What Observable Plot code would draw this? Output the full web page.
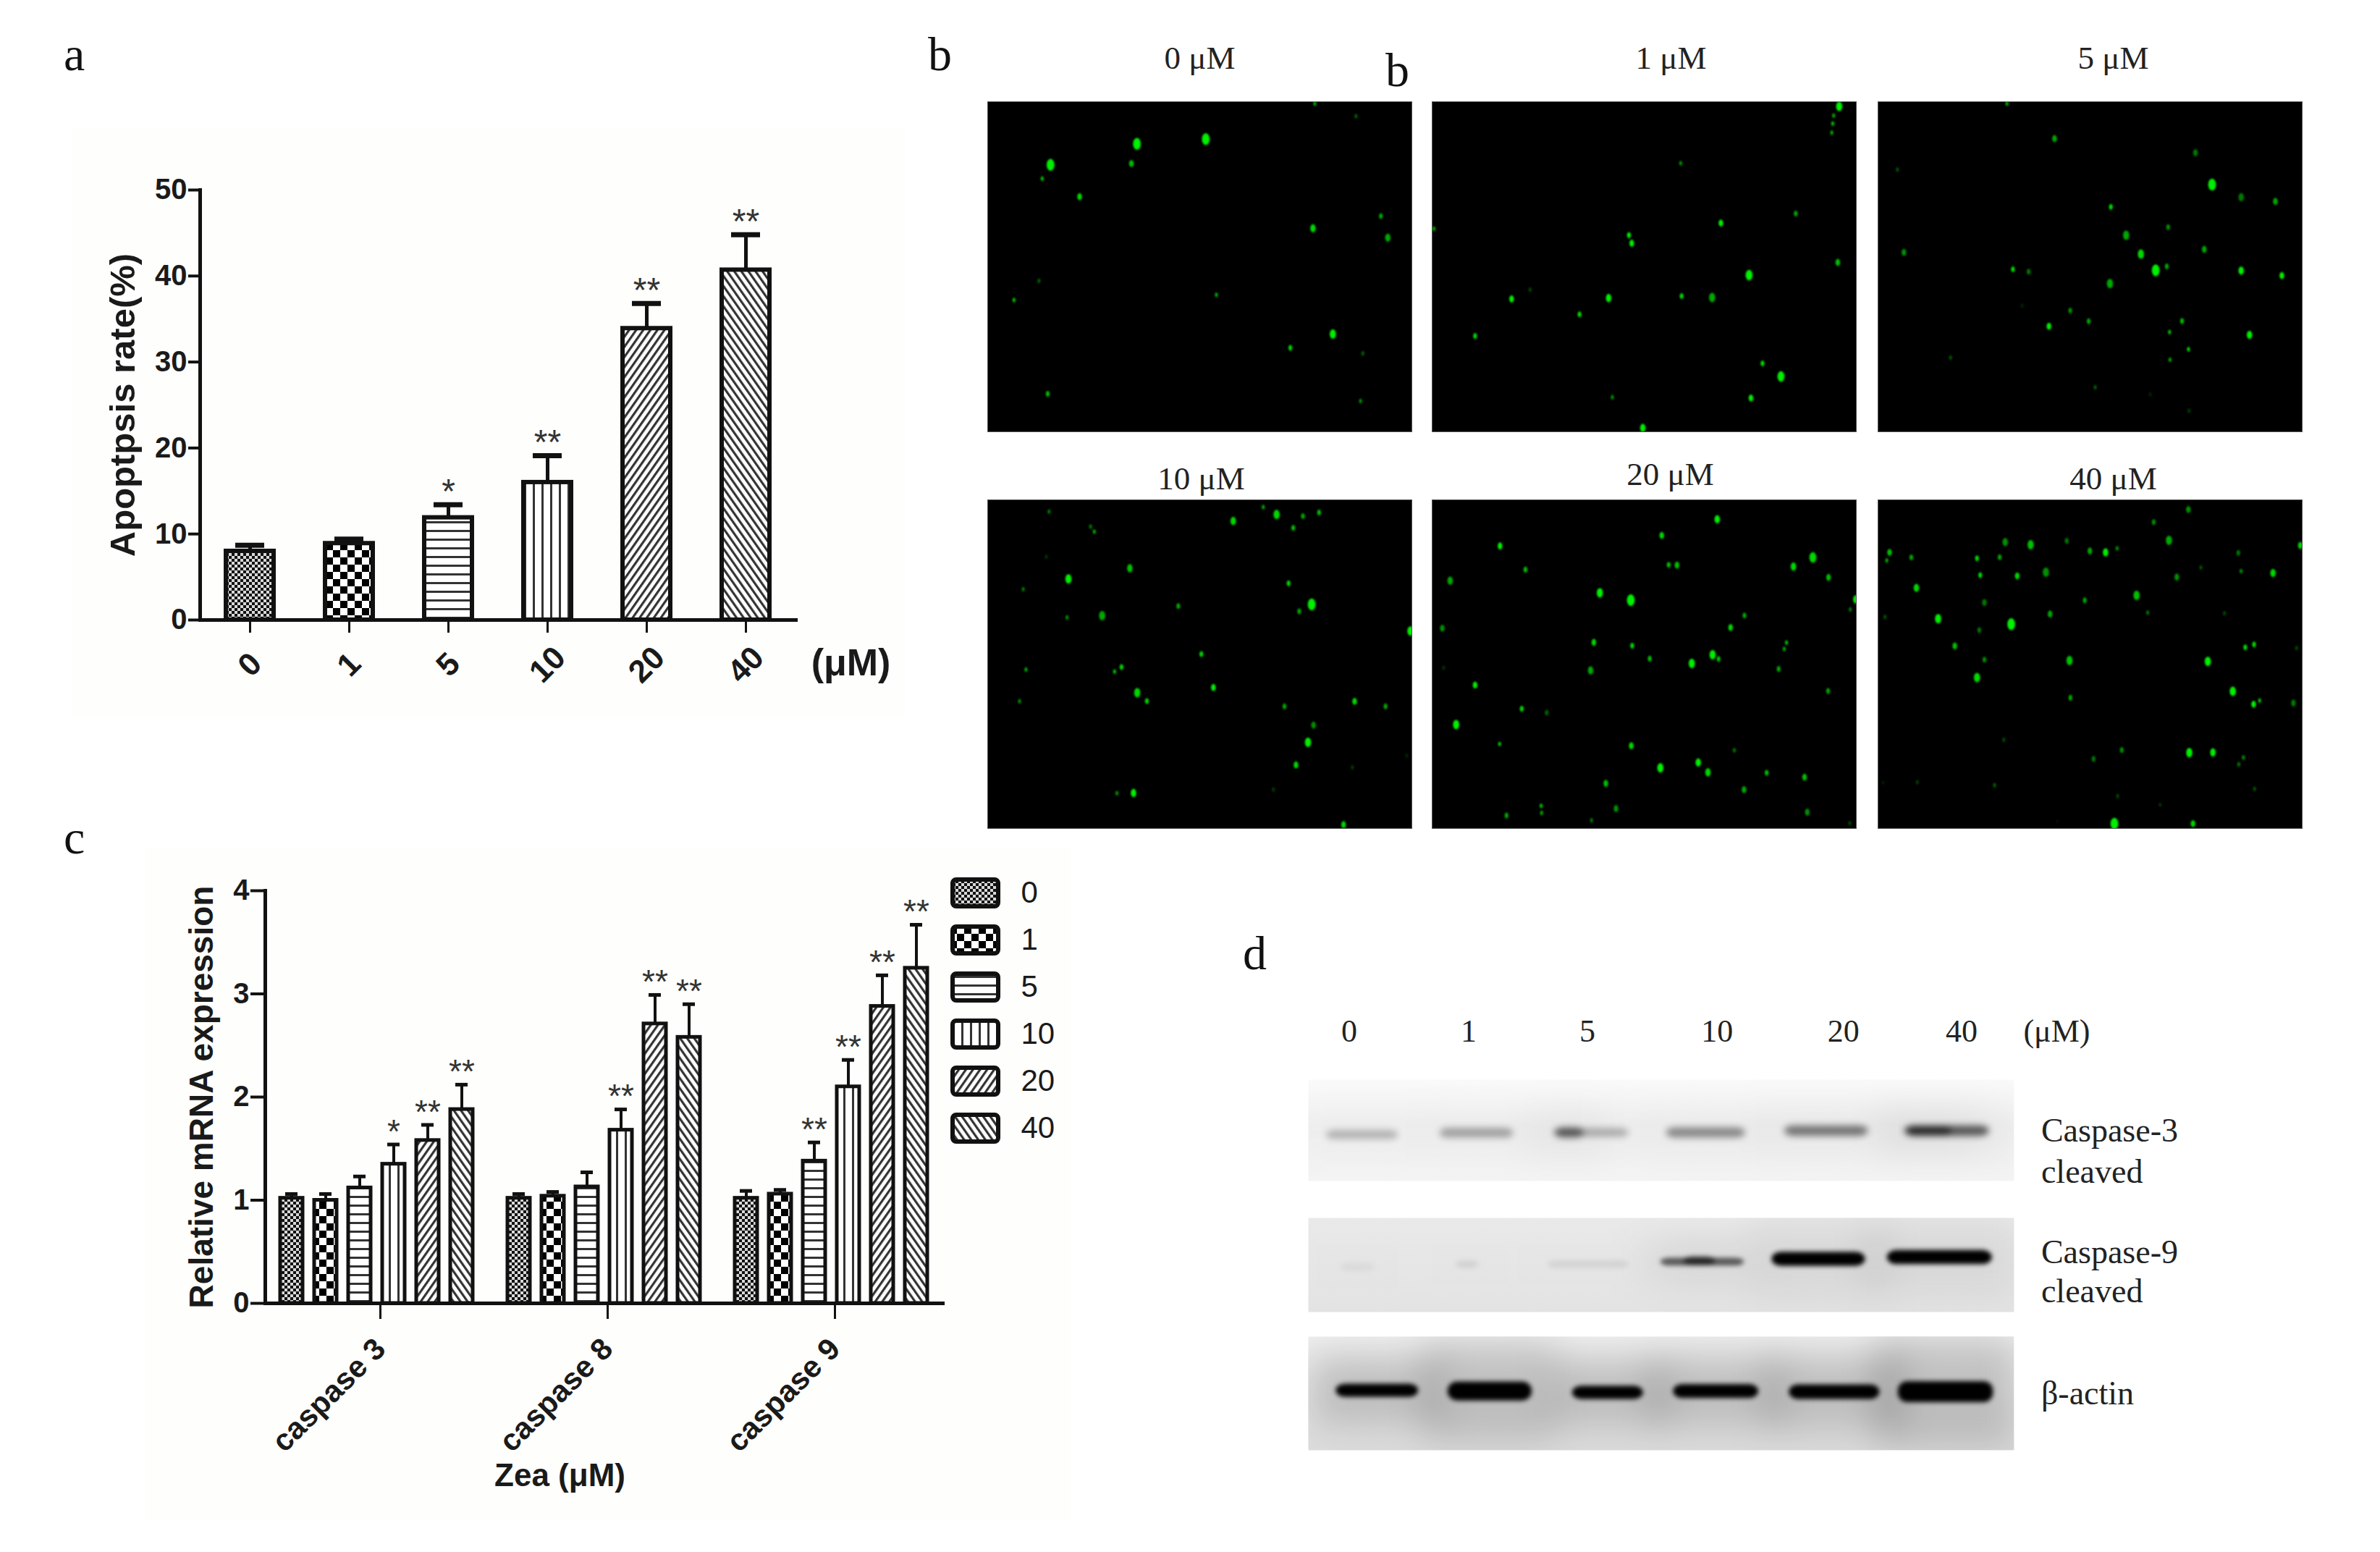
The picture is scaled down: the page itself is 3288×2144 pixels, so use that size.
<!DOCTYPE html>
<html><head><meta charset="utf-8">
<script src="https://cdn.jsdelivr.net/npm/d3@7"></script>
<script src="https://cdn.jsdelivr.net/npm/@observablehq/plot@0.6"></script>
<style>
html,body{margin:0;background:#fff;width:3288px;height:2144px;overflow:hidden}
#page{position:relative;width:3288px;height:2144px}
.letter{position:absolute;font-family:"Liberation Serif";font-size:66px;line-height:1;color:#111}
</style></head><body><div id="page">
<svg width="0" height="0" style="position:absolute">
<defs>
<pattern id="p0" width="8" height="8" patternUnits="userSpaceOnUse"><rect width="8" height="8" fill="#d8d8d8"/><rect width="4" height="4" fill="#111"/><rect x="4" y="4" width="4" height="4" fill="#111"/></pattern>
<pattern id="p1" width="20" height="20" patternUnits="userSpaceOnUse"><rect width="20" height="20" fill="#fff"/><rect width="10" height="10" fill="#000"/><rect x="10" y="10" width="10" height="10" fill="#000"/></pattern>
<pattern id="p2" width="10" height="12" patternUnits="userSpaceOnUse"><rect width="10" height="12" fill="#fff"/><rect y="4" width="10" height="3" fill="#333"/></pattern>
<pattern id="p3" width="12" height="10" patternUnits="userSpaceOnUse"><rect width="12" height="10" fill="#fff"/><rect x="4" width="3" height="10" fill="#333"/></pattern>
<pattern id="p4" width="8" height="8" patternUnits="userSpaceOnUse" patternTransform="rotate(35)"><rect width="8" height="8" fill="#fff"/><rect width="3.2" height="8" fill="#333"/></pattern>
<pattern id="p5" width="8" height="8" patternUnits="userSpaceOnUse" patternTransform="rotate(-35)"><rect width="8" height="8" fill="#fff"/><rect width="3.2" height="8" fill="#333"/></pattern>
<linearGradient id="blot0" x1="0" x2="0" y1="0" y2="1"><stop offset="0" stop-color="#fafafa"/><stop offset=".45" stop-color="#f0f0f0"/><stop offset="1" stop-color="#f4f4f4"/></linearGradient>
<linearGradient id="blot1" x1="0" x2="0" y1="0" y2="1"><stop offset="0" stop-color="#e9e9e9"/><stop offset="1" stop-color="#e3e3e3"/></linearGradient>
<linearGradient id="blot2" x1="0" x2="0" y1="0" y2="1"><stop offset="0" stop-color="#eeeeee"/><stop offset=".5" stop-color="#e4e4e4"/><stop offset="1" stop-color="#dcdcdc"/></linearGradient>
</defs></svg>
</div>
<script>
const page=document.getElementById("page");
const SANS="Liberation Sans", SERIF="Liberation Serif";

// ---- shared categories
const doses=["0","1","5","10","20","40"];
const patterns=["url(#p0)","url(#p1)","url(#p2)","url(#p3)","url(#p4)","url(#p5)"];

// ---- panel a
const apoptosisMean=[8,8.9,11.9,16,33.9,40.7];
const apoptosisUpper=[8.7,9.4,13.4,19.1,36.8,44.8];
const apoptosisStars=["","","*","**","**","**"];

// ---- panel c
const genes=["caspase 3","caspase 8","caspase 9"];
const mrnaMean=[[1.02,1,1.12,1.35,1.58,1.88],[1.02,1.04,1.13,1.68,2.71,2.58],[1.02,1.06,1.38,2.1,2.88,3.25]];
const mrnaUpper=[[1.06,1.06,1.23,1.54,1.73,2.12],[1.06,1.08,1.27,1.88,2.99,2.9],[1.09,1.1,1.56,2.36,3.18,3.67]];
const mrnaStars=[["","","","*","**","**"],["","","","**","**","**"],["","","**","**","**","**"]];

// ---- panel b: fluorescent spots [x, y, radius, brightness], x/y
const spots0=[[871,295,2,.7],[960,340,2,.4],[486,440,5,1],[635,423,5,1],[299,516,5,1],[474,511,3,.8],[281,566,2,.8],[362,631,3,.9],[1014,701,2.5,.7],[867,745,3.5,.9],[1029,779,3.5,.7],[274,935,2,.4],[220,1004,2,.8],[658,985,2,.7],[910,1127,4,1],[818,1177,2.5,.9],[975,1197,2,.4],[293,1343,2.5,.8],[970,1369,2,.6]];
const spots1=[[-344,747,2,.7],[-176,1000,3,1],[-136,967,2,.3],[-29,1056,2.5,.9],[-255,1134,2.5,.9],[533,305,4,1],[521,338,2,.7],[519,367,2,.8],[517,400,2,.7],[190,510,2,.6],[439,692,2.5,.7],[277,726,3,1],[78,770,2.5,1],[84,799,3,1],[530,868,3,.8],[338,914,4.5,1],[34,997,3.5,1],[192,990,2.5,.9],[258,995,4,.7],[367,1233,2.5,.9],[407,1280,4.5,1],[42,1355,2,.6],[342,1358,3,1],[108,1466,3.5,1]];
const spots2=[[897,295,2,.7],[1000,421,3,.7],[1305,472,3,.5],[660,533,2,.35],[1341,587,5,1],[1404,633,3.5,.5],[1478,648,3,.7],[1122,668,2.5,.9],[1246,741,2.5,.6],[1155,770,4,.7],[1187,838,4,.9],[1324,821,3,.7],[674,832,3,.6],[910,893,2.5,.9],[944,902,2.5,.5],[1219,897,5,1],[1243,883,2.5,.7],[1404,898,3.5,1],[1492,916,3,1],[1120,945,4,.7],[1034,1042,2.5,.6],[1074,1081,2.5,.7],[1276,1080,2.5,.8],[988,1099,3,1],[1249,1120,2,.8],[1422,1130,3.5,1],[1290,1182,2,.9],[1250,1220,2,.7],[775,1212,2,.35],[1088,1319,2,.4],[1207,1345,2,.15],[1291,1404,2,.25],[930,1025,2,.15]];
const spots3=[[233,199,2,.5],[697,180,2,.7],[726,211,4,.9],[783,218,2.5,.7],[818,203,2.5,.8],[632,238,3.5,.9],[323,262,2,.5],[331,283,2,.7],[762,267,2.5,.8],[227,387,2,.2],[408,435,3.5,.8],[275,480,4,1],[177,523,2,.5],[752,498,2.5,.9],[513,593,2.5,.7],[802,586,5,1],[775,615,2.5,.7],[348,633,4,.7],[272,640,2,.6],[1016,697,4,1],[563,793,2.5,.9],[183,858,2,.7],[390,847,2.5,.9],[375,866,2,.8],[589,932,3,1],[424,954,4,.9],[445,989,2.5,.9],[169,990,2,.6],[895,990,3,.9],[743,1011,2.5,.7],[962,1011,2.5,.7],[806,1089,3,.6],[794,1161,4,1],[768,1255,3,.9],[890,1265,2,.25],[380,1373,2,.6],[416,1372,3.5,1],[719,1358,2,.25],[871,1504,3,.9],[1008,1217,2,.15]];
const spots4=[[-232,342,3,1],[-177,441,2.5,.8],[-340,487,3.5,.7],[-16,538,4,1],[-357,685,3,.6],[-29,744,3,.9],[-354,850,2,.2],[-36,861,3.5,.7],[-286,922,3,1],[-185,1021,2.5,.9],[-131,1037,2.5,.4],[-327,1087,4,1],[-233,1168,2,.8],[-3,1332,3,.8],[-143,1426,2,.8],[-142,1455,2,.7],[-218,1466,2.5,.7],[-34,1486,2,.5],[238,231,3.5,1],[118,298,3,.9],[133,421,2.5,.8],[151,422,3,.8],[403,428,3.5,.9],[445,390,4.5,.9],[479,473,3,.8],[51,568,5,1],[538,565,3.5,1],[526,607,2,.5],[297,632,2.5,.7],[267,682,3,.9],[54,758,2.5,.9],[388,745,2,.8],[383,772,2,.7],[228,796,4,1],[241,813,2.5,.8],[92,812,2.5,.8],[183,832,4,1],[371,855,2.5,.7],[478,947,2.5,.7],[52,1175,3,.9],[275,1194,2,.5],[197,1245,3.5,1],[115,1267,4,1],[218,1286,3.5,.9],[345,1288,2.5,.8],[427,1306,3,.8],[296,1358,3,.7],[19,1437,3,.6],[433,1452,3,.6],[525,1498,2,.3]];
const spots5=[[1258,190,3,.6],[1183,243,2.5,.6],[1216,319,4,.7],[862,326,3.5,.6],[917,337,4,.8],[995,321,2.5,.5],[1045,363,3,.7],[1079,369,3.5,1],[1104,352,2,.6],[612,369,3,.8],[659,390,2.5,.7],[606,403,2,.7],[801,394,2.5,.9],[850,389,2.5,.7],[1366,371,2.5,.5],[1500,340,3,.9],[1285,432,2,.35],[1372,447,2,.6],[1441,455,3.5,.9],[808,464,2.5,.9],[888,467,3,.9],[950,452,4,.6],[1233,472,3,.6],[670,517,3.5,.9],[1146,548,4,.8],[817,578,3,.5],[1034,569,2.5,.7],[959,626,3,.7],[1170,620,2,.5],[1336,623,2,.3],[602,638,2,.35],[717,646,4,1],[875,668,5,1],[806,693,2.5,.5],[753,759,3,.8],[1400,753,2.5,.9],[1381,765,2.5,.9],[1492,768,2,.3],[817,816,2.5,.6],[1001,820,4,.8],[1300,824,4,1],[801,891,4,.9],[1354,948,4,1],[1003,975,2.5,.7],[1412,987,2,.8],[1399,1002,3,1],[1485,997,3,.5],[859,1150,2,.3],[1114,1193,2.5,.6],[1053,1230,2.5,.5],[1260,1204,4,1],[1311,1203,3.5,1],[1377,1224,2,.6],[1367,1252,2,.5],[672,1327,2,.25],[598,1329,1.5,.15],[839,1340,2,.4],[1401,1355,2,.35],[1105,1385,2,.3],[1197,1421,1.5,.3],[1098,1500,5,1],[1268,1500,3,.9],[975,1490,1.5,.1]];
const photoLabels=["0 μM","1 μM","5 μM","10 μM","20 μM","40 μM"];
const photoSpots=[spots0,spots1,spots2,spots3,spots4,spots5];
const photoFrames=[[163,1081,288,1480],[-348,570,288,1480],[618,1536,288,1480],[100,1019,150,1520],[-379,539,150,1520],[587,1504,150,1520]];
const photoBoxes=[[1364,140,586,456],[1978,140,586,456],[2594,140,586,456],[1364,690,586,454],[1978,690,586,454],[2594,690,586,454]];
const photoLabelPos=[[0,-60],[37,-60],[32,-60],[2,-29],[36,-35],[32,-29]];

// ---- panel d: bands [x1, x2, yCentre, thickness, darkness]
const bandsCasp3=[[165,290,593,26,.25],[362,490,588,28,.32],[560,690,587,24,.28],[562,612,587,30,.5],[755,892,587,30,.42],[960,1105,582,30,.5],[1168,1315,582,30,.62],[1172,1250,582,26,.6]];
const bandsCasp9=[[190,250,970,24,.04],[390,430,962,22,.08],[550,690,962,22,.07],[745,890,955,22,.6],[785,840,952,24,.6],[938,1100,947,40,1],[1138,1320,942,40,1]];
const bandsActin=[[182,325,1322,38,1],[376,522,1324,54,1],[592,715,1328,38,1],[767,915,1324,40,1],[968,1125,1326,42,1],[1157,1322,1326,60,1]];
const blotBands=[bandsCasp3,bandsCasp9,bandsActin];
const blotExtents=[[435,725],[830,1097],[1168,1492]];
const blotBoxes=[[1491,140],[1682,130],[1846,157]];
const laneLabels=[["0",205],["1",412],["5",618],["10",843],["20",1062],["40",1267],["(μM)",1432]];
const blotLabels=[[["Caspase-3",582],["cleaved",699]],[["Caspase-9",928],["cleaved",1040]],[["β-actin",1330]]];

// ---- panel letters
const letters=[["a",88,42],["b",1282,42],["b",1914,64],["c",88,1124],["d",1717,1284]];

function place(svg,left,top){
  svg.style.position="absolute"; svg.style.left=left+"px"; svg.style.top=top+"px";
  svg.style.maxWidth="none"; svg.style.height=svg.getAttribute("height")+"px";
  svg.style.background="transparent"; svg.style.overflow="visible";
  page.appendChild(svg);
}
letters.forEach(([t,x,y])=>{const d=document.createElement("div");d.className="letter";d.textContent=t;d.style.left=x+"px";d.style.top=y+"px";page.appendChild(d);});

[[100,175,1150,815],[200,1170,1280,930]].forEach(([l,t,w,h])=>{const d=document.createElement("div");d.style.cssText=`position:absolute;left:${l}px;top:${t}px;width:${w}px;height:${h}px;background:#fefefc`;page.appendChild(d);});

// ---- panel a
const aRows=doses.map((d,i)=>({dose:d,mean:apoptosisMean[i],upper:apoptosisUpper[i],star:apoptosisStars[i]}));
place(Plot.plot({
  width:1200,height:780,marginLeft:216,marginRight:161,marginTop:62,marginBottom:124,
  x:{domain:doses,paddingInner:.52,paddingOuter:.26,label:null},
  y:{domain:[0,50],label:null},
  color:{domain:doses,range:patterns},
  marks:[
    Plot.ruleX(aRows,{x:"dose",y1:"mean",y2:"upper",stroke:"#111",strokeWidth:5}),
    Plot.tickY(aRows,{x:"dose",y:"upper",stroke:"#111",strokeWidth:7,insetLeft:13,insetRight:13}),
    Plot.barY(aRows,{x:"dose",y:"mean",fill:"dose",stroke:"#111",strokeWidth:6}),
    Plot.text(aRows,{x:"dose",y:"upper",text:"star",fontSize:48,fontFamily:SANS,fill:"#333",dy:-18}),
    Plot.frame({anchor:"left",stroke:"#111",strokeWidth:5}),
    Plot.frame({anchor:"bottom",stroke:"#111",strokeWidth:5}),
    Plot.axisY({ticks:[0,10,20,30,40,50],tickSize:16,tickPadding:2,strokeWidth:4,stroke:"#111",fontSize:40,fontWeight:"bold",fontFamily:SANS,fill:"#1a1a1a",label:null}),
    Plot.axisX({tickSize:18,tickRotate:-45,tickPadding:44,textAnchor:"middle",strokeWidth:3,stroke:"#111",fontSize:44,fontWeight:"bold",fontFamily:SANS,fill:"#1a1a1a",label:null}),
    Plot.text(["Apoptpsis rate(%)"],{frameAnchor:"left",textAnchor:"middle",dx:-106,rotate:-90,fontSize:49,fontWeight:"bold",fontFamily:SANS,fill:"#1a1a1a"}),
    Plot.text(["(μM)"],{frameAnchor:"bottom-right",dx:76,dy:76,textAnchor:"middle",fontSize:52,fontWeight:"bold",fontFamily:SANS,fill:"#1a1a1a"})
  ]
}),60,200);

// ---- panel c
const cRows=genes.flatMap((g,j)=>doses.map((d,i)=>({gene:g,dose:d,mean:mrnaMean[j][i],upper:mrnaUpper[j][i],star:mrnaStars[j][i]})));
place(Plot.plot({
  width:1130,height:900,marginLeft:145,marginRight:30,marginTop:50,marginBottom:280,
  fx:{domain:genes,paddingInner:.019,paddingOuter:0,range:[145,1083],axis:null,label:null},
  x:{domain:doses,paddingInner:.33,paddingOuter:.435,axis:null,label:null},
  y:{domain:[0,4],label:null},
  color:{domain:doses,range:patterns},
  marks:[
    Plot.ruleX(cRows,{fx:"gene",x:"dose",y1:"mean",y2:"upper",stroke:"#111",strokeWidth:4}),
    Plot.tickY(cRows,{fx:"gene",x:"dose",y:"upper",stroke:"#111",strokeWidth:5,insetLeft:7,insetRight:7}),
    Plot.barY(cRows,{fx:"gene",x:"dose",y:"mean",fill:"dose",stroke:"#111",strokeWidth:5}),
    Plot.text(cRows,{fx:"gene",x:"dose",y:"upper",text:"star",fontSize:46,fontFamily:SANS,fill:"#333",dy:-17}),
    Plot.frame({anchor:"left",facet:"super",stroke:"#111",strokeWidth:5}),
    Plot.frame({anchor:"bottom",facet:"super",stroke:"#111",strokeWidth:5}),
    Plot.axisY({ticks:[0,1,2,3,4],tickFormat:"d",tickSize:20,tickPadding:2,strokeWidth:4,stroke:"#111",fontSize:40,fontWeight:"bold",fontFamily:SANS,fill:"#1a1a1a",label:null}),
    Plot.axisFx({anchor:"bottom",tickSize:22,tickRotate:-45,tickPadding:34,dx:5,strokeWidth:3,stroke:"#111",fontSize:42,fontWeight:"bold",fontFamily:SANS,fill:"#1a1a1a",label:null}),
    Plot.text(["Relative mRNA expression"],{frameAnchor:"left",textAnchor:"middle",facet:"super",dx:-87,rotate:-90,fontSize:46,fontWeight:"bold",fontFamily:SANS,fill:"#1a1a1a"}),
    Plot.text(["Zea (μM)"],{frameAnchor:"bottom",facet:"super",dx:-61,dy:252,fontSize:44,fontWeight:"bold",fontFamily:SANS,fill:"#1a1a1a"})
  ]
}),220,1180);

// legend of c
place(Plot.plot({
  width:160,height:393,margin:0,marginRight:90,
  x:{domain:["swatch"],padding:.05,axis:null,label:null},
  y:{domain:doses,paddingInner:.43,paddingOuter:.215,axis:null,label:null},
  color:{domain:doses,range:patterns},
  marks:[
    Plot.cell(doses,{x:()=>"swatch",y:d=>d,fill:d=>d,stroke:"#111",strokeWidth:6,rx:5}),
    Plot.text(doses,{y:d=>d,text:d=>d,frameAnchor:"left",dx:98,textAnchor:"start",fontSize:42,fontFamily:SANS,fill:"#1a1a1a"})
  ]
}),1312,1200);

// ---- panel b
const ovalSpot={draw(c,size){const r=Math.sqrt(size/Math.PI),a=r*.82,b=r*1.25,k=.5523;
  c.moveTo(a,0);c.bezierCurveTo(a,k*b,k*a,b,0,b);c.bezierCurveTo(-k*a,b,-a,k*b,-a,0);
  c.bezierCurveTo(-a,-k*b,-k*a,-b,0,-b);c.bezierCurveTo(k*a,-b,a,-k*b,a,0);c.closePath();}};
photoSpots.forEach((spots,i)=>{
  const [x0,x1,y0,y1]=photoFrames[i], [l,t,w,h]=photoBoxes[i], [dx,dy]=photoLabelPos[i];
  place(Plot.plot({
    width:w,height:h+80,margin:0,marginTop:80,
    x:{domain:[x0,x1],axis:null},
    y:{domain:[y1,y0],axis:null},
    r:{type:"identity"},
    opacity:{type:"identity"},
    marks:[
      Plot.frame({fill:"#000",stroke:"#555",strokeWidth:1}),
      Plot.dot(spots,{x:d=>d[0],y:d=>d[1],r:d=>d[2]*1.3,fillOpacity:d=>d[3],fill:"#00f000",symbol:ovalSpot,stroke:"none",clip:true,imageFilter:"blur(.8px)"}),
      Plot.text([photoLabels[i]],{frameAnchor:"top",lineAnchor:"middle",dx,dy,fontSize:45,fontFamily:SERIF,fill:"#222"})
    ]
  }),l,t-80);
});

// ---- panel d
blotBands.forEach((bands,i)=>{
  const [y0,y1]=blotExtents[i],[t,h]=blotBoxes[i];
  const mt=i===0?110:0;
  const rowLabels=blotLabels[i];
  place(Plot.plot({
    width:1400,height:h+mt,margin:0,marginTop:mt,marginRight:425,
    x:{domain:[134,1358],axis:null},
    y:{domain:[y1,y0],axis:null},
    marks:[
      Plot.frame({fill:`url(#blot${i})`}),
      Plot.rect(bands,{x1:d=>d[0]-40,x2:d=>d[1]+40,y1:d=>d[2]-d[3]*2.6,y2:d=>d[2]+d[3]*2.6,fill:"#000",fillOpacity:d=>d[4]*(i===2?.16:.06),clip:true,imageFilter:"blur(24px)"}),
      Plot.rect(bands,{x1:"0",x2:"1",y1:d=>d[2]-d[3]/2,y2:d=>d[2]+d[3]/2,fill:"#000",fillOpacity:d=>d[4],rx:13,clip:true,imageFilter:i===0?"blur(5px)":"blur(3.2px)"}),
      Plot.text(rowLabels,{x:()=>1405,y:d=>d[1],text:d=>d[0],textAnchor:"start",fontSize:46,fontFamily:SERIF,fill:"#222"}),
      ...(i===0?[Plot.text(laneLabels,{x:d=>d[1],y:()=>297,text:d=>d[0],fontSize:44,fontFamily:SERIF,fill:"#222"})]:[])
    ]
  }),1807,t-mt);
});
</script></body></html>
